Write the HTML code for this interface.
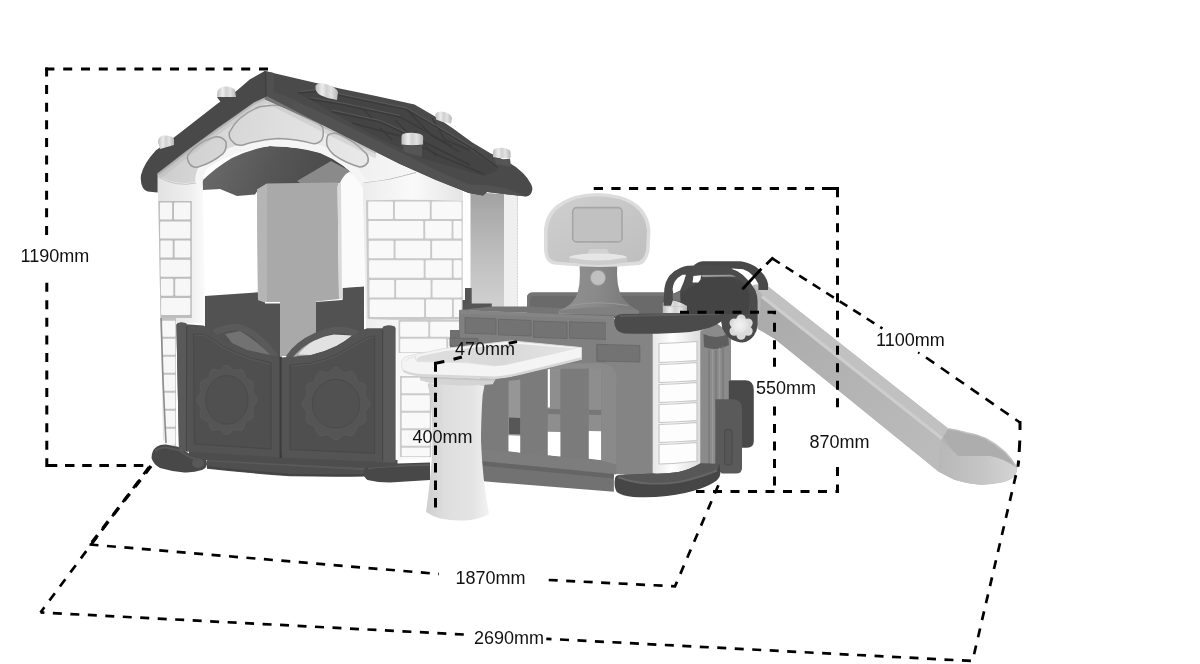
<!DOCTYPE html>
<html><head><meta charset="utf-8">
<title>Playhouse dimensions</title>
<style>
html,body{margin:0;padding:0;background:#fff;}
body{width:1200px;height:664px;overflow:hidden;font-family:"Liberation Sans",sans-serif;}
svg{display:block;will-change:transform;}
text{font-family:"Liberation Sans",sans-serif;font-size:18px;fill:#111;}
.d{fill:none;stroke:#000;stroke-width:3;stroke-dasharray:9 8.5;}
</style></head><body>
<svg width="1200" height="664" viewBox="0 0 1200 664">
<defs>
<linearGradient id="gCol" x1="0" x2="1" y1="0" y2="0"><stop offset="0" stop-color="#a4a4a4"/><stop offset="0.08" stop-color="#b4b4b4"/><stop offset="1" stop-color="#b8b8b8"/></linearGradient>
<linearGradient id="gLeg" x1="0" x2="1" y1="0" y2="0"><stop offset="0" stop-color="#cfcfcf"/><stop offset="0.3" stop-color="#dedede"/><stop offset="0.75" stop-color="#e4e4e4"/><stop offset="1" stop-color="#f2f2f2"/></linearGradient>
<linearGradient id="gWallR" x1="0" x2="1" y1="0" y2="0"><stop offset="0" stop-color="#ececec"/><stop offset="0.5" stop-color="#fafafa"/><stop offset="1" stop-color="#e4e4e4"/></linearGradient>
<linearGradient id="gCyl" x1="0" x2="1" y1="0" y2="0"><stop offset="0" stop-color="#e6e6e6"/><stop offset="0.4" stop-color="#ffffff"/><stop offset="1" stop-color="#dcdcdc"/></linearGradient>
<linearGradient id="gFoot" x1="0" x2="0" y1="0" y2="1"><stop offset="0" stop-color="#5c5c5c"/><stop offset="0.5" stop-color="#4a4a4a"/><stop offset="1" stop-color="#3f3f3f"/></linearGradient>
<linearGradient id="gBoard" x1="0" x2="1" y1="0" y2="1"><stop offset="0" stop-color="#cfcfcf"/><stop offset="1" stop-color="#bebebe"/></linearGradient>
<linearGradient id="gSlide" x1="0" x2="0.6" y1="1" y2="0"><stop offset="0" stop-color="#a9a9a9"/><stop offset="0.45" stop-color="#b6b6b6"/><stop offset="0.55" stop-color="#c6c6c6"/><stop offset="1" stop-color="#bdbdbd"/></linearGradient>
<linearGradient id="gPillL" x1="0" x2="1" y1="0" y2="0"><stop offset="0" stop-color="#e2e2e2"/><stop offset="0.7" stop-color="#efefef"/><stop offset="1" stop-color="#fbfbfb"/></linearGradient>
<linearGradient id="gSlideFace" gradientUnits="userSpaceOnUse" x1="760" y1="300" x2="940" y2="450"><stop offset="0" stop-color="#aaaaaa"/><stop offset="0.5" stop-color="#b3b3b3"/><stop offset="1" stop-color="#bbbbbb"/></linearGradient>
<linearGradient id="gSlideLip" gradientUnits="userSpaceOnUse" x1="940" y1="470" x2="1015" y2="470"><stop offset="0" stop-color="#b8b8b8"/><stop offset="0.6" stop-color="#c6c6c6"/><stop offset="1" stop-color="#d4d4d4"/></linearGradient>
<linearGradient id="gUnder" gradientUnits="userSpaceOnUse" x1="210" y1="150" x2="330" y2="200"><stop offset="0" stop-color="#6a6a6a"/><stop offset="0.5" stop-color="#565656"/><stop offset="1" stop-color="#484848"/></linearGradient>
<linearGradient id="gPillar" x1="0" x2="0" y1="0" y2="1"><stop offset="0" stop-color="#a2a2a2"/><stop offset="0.5" stop-color="#bdbdbd"/><stop offset="1" stop-color="#d2d2d2"/></linearGradient>
<linearGradient id="gGable" gradientUnits="userSpaceOnUse" x1="170" y1="120" x2="400" y2="170"><stop offset="0" stop-color="#cdcdcd"/><stop offset="0.35" stop-color="#dedede"/><stop offset="0.7" stop-color="#ececec"/><stop offset="1" stop-color="#f5f5f5"/></linearGradient>
<linearGradient id="gKnob" x1="0" x2="1" y1="0" y2="0"><stop offset="0" stop-color="#bcbcbc"/><stop offset="0.3" stop-color="#ececec"/><stop offset="0.5" stop-color="#d0d0d0"/><stop offset="0.7" stop-color="#e2e2e2"/><stop offset="1" stop-color="#b6b6b6"/></linearGradient>
<linearGradient id="gTableTop" gradientUnits="userSpaceOnUse" x1="430" y1="350" x2="570" y2="360"><stop offset="0" stop-color="#dedede"/><stop offset="0.5" stop-color="#d8d8d8"/><stop offset="1" stop-color="#e4e4e4"/></linearGradient>
<linearGradient id="gPanel" gradientUnits="userSpaceOnUse" x1="190" y1="120" x2="370" y2="160"><stop offset="0" stop-color="#d0d0d0"/><stop offset="0.5" stop-color="#dfdfdf"/><stop offset="1" stop-color="#e9e9e9"/></linearGradient>
<radialGradient id="gFlower" gradientUnits="userSpaceOnUse" cx="739.5" cy="325" r="9"><stop offset="0" stop-color="#f2f2f2"/><stop offset="0.7" stop-color="#e6e6e6"/><stop offset="1" stop-color="#dcdcdc"/></radialGradient>
<linearGradient id="gPole" gradientUnits="userSpaceOnUse" x1="575" y1="0" x2="625" y2="0"><stop offset="0" stop-color="#8e8e8e"/><stop offset="0.4" stop-color="#8a8a8a"/><stop offset="1" stop-color="#7c7c7c"/></linearGradient>
</defs>
<rect width="1200" height="664" fill="#fff"/>
<g id="house">
<!-- interior: roof underside -->
<path d="M202 181 Q215 168 232 158 Q250 149 270 146 Q300 147 320 153 Q345 163 365 186 L338 186 L258 190 L255 194.5 L237 196 L220 189 L202.7 190 Z" fill="url(#gUnder)"/>
<path d="M297 181 L331 161 L352 172 L340 184 L338 183 L300 183 Z" fill="#8a8a8a"/>
<!-- interior dark lower wall -->
<path d="M205 296 L262.500 292 L265 303.500 L280 303.500 L280 360 L205 360 Z" fill="#525252"/>
<path d="M316 302 L342.5 300 L342.5 287.5 L364 286 L364 360 L316 360 Z" fill="#525252"/>
<!-- center column -->
<path d="M257 189.5 L267 183.4 L337.5 182.6 L339 299 L316 301.5 L316 356 L280 356 L280 302 L264 302 L258 300 Z" fill="#a9a9a9"/>
<path d="M257 189.5 L267 183.4 L267 302 L264 302 L258 300 Z" fill="#b5b5b5"/>
<!-- far right pillar (gray) -->
<path d="M470.5 192 L517.5 195 L517.5 312 L470.5 312 Z" fill="url(#gPillar)"/>
<path d="M504 194 L517.5 195 L517.5 312 L504 312 Z" fill="#efefef"/>
<path d="M517.5 195 V312" stroke="#d0d0d0" stroke-width="1" stroke-dasharray="1.5 1.5"/>
<!-- right wall -->
<path d="M362.6 182.6 Q390 180 417 172 L440 180 L463 191.8 L463 455 L398 460 L396 330 L366 328 Z" fill="url(#gWallR)"/>
<path d="M340 183 Q343 175 350 171.5 L362.6 181 L364 286.500 L342.500 288 L342.500 299 L339 299 Z" fill="#fbfbfb"/>
<path d="M337.5 183 L341 183 L342 299 L339 299 Z" fill="#d9d9d9"/>
<path d="M363.4 182.6 Q390 180.5 416 172.500" fill="none" stroke="#b5b5b5" stroke-width="1"/>
<!-- right wall brick panel -->
<path d="M366 200.2 Q415 198.8 462.5 201 L462.5 319 Q415 321 367.5 319 Z" fill="#c9c9c9"/>
<g fill="#f9f9f9">
<rect x="368.2" y="201.5" width="24.8" height="17.5" rx="1.2"/>
<rect x="394.9" y="201.5" width="34.9" height="17.5" rx="1.2"/>
<rect x="431.7" y="201.5" width="29.9" height="17.5" rx="1.2"/>
<rect x="368.5" y="221.1" width="54.8" height="17.5" rx="1.2"/>
<rect x="425.2" y="221.1" width="26.4" height="17.5" rx="1.2"/>
<rect x="453.4" y="221.1" width="8.2" height="17.5" rx="1.2"/>
<rect x="368.8" y="240.7" width="24.8" height="17.5" rx="1.2"/>
<rect x="395.5" y="240.7" width="34.7" height="17.5" rx="1.2"/>
<rect x="432.1" y="240.7" width="29.5" height="17.5" rx="1.2"/>
<rect x="369.1" y="260.3" width="54.6" height="17.5" rx="1.2"/>
<rect x="425.6" y="260.3" width="26.2" height="17.5" rx="1.2"/>
<rect x="453.6" y="260.3" width="8.0" height="17.5" rx="1.2"/>
<rect x="369.4" y="279.9" width="24.8" height="17.5" rx="1.2"/>
<rect x="396.1" y="279.9" width="34.5" height="17.5" rx="1.2"/>
<rect x="432.5" y="279.9" width="29.1" height="17.5" rx="1.2"/>
<rect x="369.7" y="299.5" width="54.4" height="17.5" rx="1.2"/>
<rect x="426.0" y="299.5" width="26.0" height="17.5" rx="1.2"/>
<rect x="453.8" y="299.5" width="7.8" height="17.5" rx="1.2"/>
</g>
<!-- lower right wall bricks (beside table) -->
<path d="M398.5 320 H462.5 V353 H398.5 Z M400 376 H431 V457 H400 Z" fill="#cbcbcb"/>
<g fill="#f9f9f9">
<rect x="400.2" y="321.7" width="28.1" height="15.1" rx="1.2"/><rect x="430.2" y="321.7" width="31.4" height="15.1" rx="1.2"/>
<rect x="400.2" y="338.7" width="46.1" height="13.6" rx="1.2"/><rect x="448.2" y="338.7" width="13.4" height="11.6" rx="1.2"/>
<rect x="401.7" y="377.7" width="28.1" height="15.6" rx="1.2"/>
<rect x="401.7" y="395.2" width="28.1" height="15.6" rx="1.2"/>
<rect x="401.7" y="412.7" width="28.1" height="15.6" rx="1.2"/>
<rect x="401.7" y="430.2" width="28.1" height="15.6" rx="1.2"/>
<rect x="401.7" y="447.7" width="28.1" height="8.6" rx="1.2"/>
</g>
<!-- gable (white arch front) -->
<path d="M157.6 172 L186 149 L218 126 L236.2 113.5 L254.2 101 L266.9 95.5 L323 125.2 L376 151 L400 163 L417 171 Q390 180.5 362.6 182.6 L362.6 187 Q352 170 336 160 Q320 151 303 148.6 Q286 146 269.8 146 Q254 147.5 239.7 152 Q222 158 208 167 Q202 173 202.7 181 L200 186 L160 186 Z" fill="url(#gGable)"/>
<clipPath id="cGable"><path d="M157.6 172 L186 149 L218 126 L236.2 113.5 L254.2 101 L266.9 95.5 L323 125.2 L376 151 L400 163 L417 171 Q390 180.5 362.6 182.6 L362.6 187 Q352 170 336 160 Q320 151 303 148.6 Q286 146 269.8 146 Q254 147.5 239.7 152 Q222 158 208 167 Q202 173 202.7 181 L200 186 L160 186 Z"/></clipPath>
<path clip-path="url(#cGable)" d="M202.7 183 Q202 173 208 167 Q222 158 239.7 152 Q254 147.5 269.8 146 Q286 146 303 148.6 Q320 151 336 160 Q352 170 362.6 187" fill="none" stroke="#f5f5f5" stroke-width="15"/>
<g fill="url(#gPanel)" stroke="#9a9a9a" stroke-width="1.5">
<path d="M229.6 132 Q238 115 259.7 106.8 Q273 104 286.5 106 Q302 109 313 118.5 Q322 124 323 128.6 Q324 137 321.6 140 Q318 144 313 143.6 Q296 139 278 138.6 Q258 140 243 145 Q236 146 233 142 Q228 138 229.6 132 Z"/>
<path d="M187.8 155 Q198 142 214.6 137 Q222 136 226 142 Q227 149 223 153.6 Q212 163 198 167 Q192 168 189.5 163.7 Q186.5 159 187.8 155 Z"/>
<path d="M328 135 Q333 132 339.6 134.4 Q354 141 366.4 153.6 Q369 158 368 162 Q365 167 359.7 167 Q346 163 334.6 155.3 Q329 151 327 145.3 Q326 139 328 135 Z"/>
</g>
<!-- left pillar -->
<path d="M157.6 175 Q175 186 195 182 L202.7 180 L205 300 L205 323 L176 323 L176 447 L163 440 Z" fill="url(#gPillL)"/>
<path d="M157.6 176.5 Q176 187.5 196 183" fill="none" stroke="#c4c4c4" stroke-width="1"/>
<path d="M158.4 201 H191.8 V318 H160.5 Z" fill="#bdbdbd"/>
<g fill="#f7f7f7">
<rect x="159.9" y="202.4" width="12.2" height="17.0" rx="1.2"/><rect x="174.0" y="202.4" width="16.3" height="17.0" rx="1.2"/>
<rect x="160.1" y="221.5" width="30.2" height="17.0" rx="1.2"/>
<rect x="160.4" y="240.6" width="12.3" height="17.0" rx="1.2"/><rect x="174.6" y="240.6" width="15.7" height="17.0" rx="1.2"/>
<rect x="160.6" y="259.7" width="29.7" height="17.0" rx="1.2"/>
<rect x="160.9" y="278.8" width="12.4" height="17.0" rx="1.2"/><rect x="175.2" y="278.8" width="15.1" height="17.0" rx="1.2"/>
<rect x="161.1" y="297.9" width="29.2" height="17.0" rx="1.2"/>
</g>
<path d="M161 318 H176 V446 L165.500 442 Z" fill="#c2c2c2"/>
<g fill="#f7f7f7">
<rect x="162.2" y="320.7" width="13.1" height="16.1" rx="1.2"/>
<rect x="162.6" y="338.7" width="12.7" height="16.1" rx="1.2"/>
<rect x="163.0" y="356.7" width="12.3" height="16.1" rx="1.2"/>
<rect x="163.4" y="374.7" width="11.9" height="16.1" rx="1.2"/>
<rect x="163.8" y="392.7" width="11.5" height="16.1" rx="1.2"/>
<rect x="164.2" y="410.7" width="11.1" height="16.1" rx="1.2"/>
<rect x="164.6" y="428.7" width="10.7" height="16.1" rx="1.2"/>
</g>
<!-- roof right plane -->
<path d="M264.6 71 L339.6 88.4 L376 96 L414.5 104.5 L436 117 L452.4 128 L472.3 142.4 L490.4 153.3 L508.4 162.3 Q517 167 522.9 173 Q528 178 531 184 Q533 188 532 191 Q531 195.500 526.5 196.6 L508.4 194.5 L487 192 L483 195.5 L468.7 193 L436 180 L400 164 L376 152 L323 125.2 L264.8 99.3 Z" fill="#4a4a4a"/>
<!-- fascia band (slightly lighter) -->
<path d="M264.8 99.3 L323 125.2 L376 152 L400 164 L436 180 L468.7 193 L483 195.5 L487 192 L508.4 194.5 L526.5 196.6 L505 188 L486 185 L468.7 184.500 L436 170 L400 152 L376 140 L323 113.500 L278 93 Z" fill="#525252"/>
<path d="M264.8 71 L274 73 L274 92 L296 100 L292 108 L264.8 99.3 Z" fill="#505050"/>
<!-- roof tiles hint -->
<path d="M298 93 L319 91 L406.7 110.6 L470 150 L498 170 L484 176 L423 158.5 L373 135.6 L331.7 111.7 Z" fill="#444444"/>
<g fill="none" stroke="#3a3a3a" stroke-width="1.4">
<path d="M298 93 L319 91 L406.7 109.6 L473 149 L498 168"/>
<path d="M310 99 L345 105 L400 117 L452 146"/>
<path d="M331.7 111.7 L380 122 L420 140 L470 165"/>
<path d="M352 123 L400 136 L440 156 L484 174"/>
<path d="M406.7 109.6 L432 136 L460 152"/>
<path d="M432 118 L445 140 L470 150"/>
<path d="M360 106 L372 118 M395 120 L408 133 M380 128 L392 140 M424 144 L436 156"/>
</g>
<g fill="none" stroke="#585858" stroke-width="1">
<path d="M299 91.5 L319 89.500 L407 108 L473.500 147.500"/>
<path d="M311 97.500 L345 103.500 L400 115.500"/>
<path d="M332 110 L380 120.500 L420 138.500"/>
</g>
<!-- roof left band -->
<path d="M264.8 71 L250 79.2 L236.7 90.7 L218 103.3 L174 137.6 L156 150.3 Q144 163 141 175 Q140 183 143 188 Q146 192 150 191.8 L157.6 192.6 L157.6 173.5 L186 151.5 L218 127.9 L236.2 115.2 L254.2 102.5 L266.9 96.7 L266.9 75 Z" fill="#494949"/>
<path d="M265.3 71 L265.8 97" stroke="#3f3f3f" stroke-width="1"/>
<path d="M157.6 174.500 L186 152.500 L218 128.900 L236.2 116.200 L254.2 103.500 L266.9 97.700 L323 126.500 L376 153" fill="none" stroke="#9a9a9a" stroke-width="2.5" opacity="0.55"/>
<path d="M159 177.500 L186 156 L218 132.400 L236.2 119.700 L254.2 107 L266.9 101.200 L323 130 L376 156.500" fill="none" stroke="#b4b4b4" stroke-width="4" opacity="0.35"/>
<!-- roof knobs -->
<g>
<path d="M217 96 Q216 88 224 86.500 Q232 86 235 90 L236 97 Q230 101 222 102 Z" fill="url(#gKnob)"/>
<path d="M217 97 L236 97 L244 94 L236 100 L222 104 Z" fill="#494949"/>
<path d="M158 142 Q158 136 164 135.500 Q172 135 174 139 L174 145 L160 149 Z" fill="url(#gKnob)"/>
<path d="M315.4 86 Q318 82 326 84 Q336 87 338 92 L337 100 Q328 99 320 95 Q315 92 315.4 86 Z" fill="url(#gKnob)"/>
<path d="M401.500 136 Q402 132.500 412 132.700 Q423 133 423.200 137 L423 144.400 Q412 146 401.500 144.400 Z" fill="url(#gKnob)"/>
<path d="M403 145 Q412 147 422 145 L422 157 L404 152 Z" fill="#555"/>
<path d="M435.4 114 Q438 110.500 445 112 Q451 114 452 118 L451 123.400 Q443 123 436 119.500 Z" fill="url(#gKnob)"/>
<path d="M493 151 Q494 147.500 502 147.700 Q510 148.500 510.600 152 L510.600 157.700 Q502 159 493 157 Z" fill="url(#gKnob)"/>
<path d="M494.500 158 Q502 160 510 158.500 L511 167 L496 164 Z" fill="#555"/>
</g>
<!-- base -->
<path d="M207 456.25 L365 465 L365 476.5 Q330 477 290 476.25 Q245 473 207 468.75 Z" fill="#4f4f4f"/>
<path d="M207 460 L365 469" stroke="#5a5a5a" stroke-width="2.5" fill="none"/>
<path d="M207 467 Q245 471.500 290 474.750 Q330 475.500 365 475" stroke="#444" stroke-width="2" fill="none"/>
<path d="M151.5 458 Q151.5 450 157 446.5 Q161 444 166 444.5 L178 446.8 L190.3 454.3 L205.4 458.8 Q207.5 461 207 464.5 Q206 468.5 202 470 Q194 472.8 184.3 472.4 Q172 471.5 160 467.9 Q153.5 464.5 151.5 458 Z" fill="#484848"/>
<ellipse cx="198" cy="463" rx="6" ry="5" fill="#606060" opacity="0.7"/>
<path d="M155 451 Q160 447 166 447.500 L178 450 L190 457 L203 461" stroke="#585858" stroke-width="2" fill="none"/>
<path d="M161 318 L163 380 L166 443" stroke="#8c8c8c" stroke-width="1.6" fill="none"/>
<path d="M363.75 472.5 Q364 467.500 367.5 466.25 Q378 464 390 463.75 L430 462.5 L430 480 L390 482.5 Q378 482.500 367.5 480 Q363.500 477 363.75 472.5 Z" fill="#484848"/>
<path d="M368 468.500 Q380 466 430 465" stroke="#5a5a5a" stroke-width="2" fill="none"/>

<!-- gate window backgrounds (arches) -->
<path d="M225 334 L240 331 Q252 338 262 347 L272 355.5 L246.8 350 L232 343 Z" fill="#727272"/>
<path d="M298 354.5 Q305 346 313.4 341 Q324 336 334 334.6 L352 335.5 L344 341.5 L336.5 346 L324 351.5 L310.9 355 Z" fill="#e2e2e2"/>
<path d="M214 333 Q227 326.500 239 327.5 Q256 331 275.500 357" fill="none" stroke="#5a5a5a" stroke-width="6.5"/>
<path d="M288.500 358 Q298 344 315 336.500 Q326 331 336.5 330 Q347 329.500 358 334" fill="none" stroke="#5a5a5a" stroke-width="6.5"/>
<!-- sill under gate -->
<path d="M189 449 L397.5 460 L397.5 466 L365 468 L206 460 L189 456 Z" fill="#4d4d4d"/>
<!-- gates -->
<path d="M176.4 325 Q176.4 322.5 181.5 322.5 Q186.6 322.5 186.6 324.3 L203.3 325.6 Q212 330 221.2 338.4 Q234 345 246.8 350 Q258 353.5 267.3 355 L280 356.4 L280 457.5 L179 451 Z" fill="#535353"/>
<path d="M281.4 357.6 L310.9 355 Q324 352 336.5 346 Q349 339 359.5 332 Q363 329.5 367.2 328.2 L382.6 328.2 Q382.6 325.5 389 325.5 Q395.4 325.5 395.4 328.2 L395.4 462.7 L281.4 457.6 Z" fill="#545454"/>
<path d="M176.4 325 Q176.4 322.5 181.5 322.5 Q186.6 322.5 186.6 324.3 L188.500 451.600 L179 451 Z" fill="#595959"/>
<path d="M382.6 328.2 Q382.6 325.5 389 325.5 Q395.4 325.5 395.4 328.2 L395.4 462.7 L383 462 Z" fill="#5a5a5a"/>
<path d="M186.6 326 V451" stroke="#444" stroke-width="1"/>
<path d="M382.6 330 V461" stroke="#444" stroke-width="1"/>
<path d="M280.7 356.500 V458" stroke="#3c3c3c" stroke-width="2.4"/>
<!-- gate inner panels -->
<g fill="#4f4f4f" stroke="#484848" stroke-width="1.2">
<path d="M193.500 334 L204 334.500 Q213 339 222 346 Q236 353 250 358 L271 363 V449 L194.500 444 Z"/>
<path d="M290 365 L311 363 Q325 360 338 354 L366 338 L374.500 336 V453 L290 449.500 Z"/>
</g>
<g fill="none" stroke="#5a5a5a" stroke-width="1.1">
<path d="M194.500 335 L204 335.500 Q213 340 222 347 Q236 354 250 359 L270 364"/>
<path d="M291 366 L311 364 Q325 361 338 355 L366 339 L373.500 337"/>
</g>
<g>
<path d="M257.2 399.9 L256.8 401.7 L255.9 403.4 L254.6 404.9 L253.5 406.4 L252.9 407.9 L252.8 409.5 L253.1 411.4 L253.5 413.5 L253.6 415.5 L253.2 417.3 L252.1 418.6 L250.5 419.5 L248.7 420.2 L247.1 420.8 L245.9 421.7 L245.1 423.1 L244.6 424.9 L244.0 426.9 L243.2 428.7 L242.1 430.0 L240.5 430.5 L238.7 430.4 L237.0 430.0 L235.3 429.6 L233.9 429.7 L232.6 430.4 L231.3 431.7 L229.9 433.1 L228.5 434.2 L226.9 434.7 L225.3 434.2 L223.9 433.1 L222.5 431.7 L221.2 430.4 L219.9 429.7 L218.5 429.6 L216.8 430.0 L215.1 430.4 L213.3 430.5 L211.7 430.0 L210.6 428.7 L209.8 426.9 L209.2 424.9 L208.7 423.1 L207.9 421.7 L206.7 420.8 L205.1 420.2 L203.3 419.5 L201.7 418.6 L200.6 417.3 L200.2 415.5 L200.3 413.5 L200.7 411.4 L201.0 409.5 L200.9 407.9 L200.3 406.4 L199.2 404.9 L197.9 403.4 L197.0 401.7 L196.6 399.9 L197.0 398.1 L197.9 396.4 L199.2 394.9 L200.3 393.4 L200.9 391.9 L201.0 390.3 L200.7 388.4 L200.3 386.3 L200.2 384.3 L200.6 382.5 L201.7 381.2 L203.3 380.3 L205.1 379.6 L206.7 379.0 L207.9 378.1 L208.7 376.7 L209.2 374.9 L209.8 372.9 L210.6 371.1 L211.7 369.8 L213.3 369.3 L215.1 369.4 L216.8 369.8 L218.5 370.2 L219.9 370.1 L221.2 369.4 L222.5 368.1 L223.9 366.7 L225.3 365.6 L226.9 365.1 L228.5 365.6 L229.9 366.7 L231.3 368.1 L232.6 369.4 L233.9 370.1 L235.3 370.2 L237.0 369.8 L238.7 369.4 L240.5 369.3 L242.1 369.8 L243.2 371.1 L244.0 372.9 L244.6 374.9 L245.1 376.7 L245.9 378.1 L247.1 379.0 L248.7 379.6 L250.5 380.3 L252.1 381.2 L253.2 382.5 L253.6 384.3 L253.5 386.3 L253.1 388.4 L252.8 390.3 L252.9 391.9 L253.5 393.4 L254.6 394.9 L255.9 396.4 L256.8 398.1 L257.2 399.9 Z" fill="#555555" stroke="#5b5b5b" stroke-width="0.9"/>
<path d="M370.1 403.7 L369.7 405.6 L368.6 407.3 L367.2 409.0 L366.0 410.5 L365.2 412.0 L365.1 413.8 L365.5 415.7 L366.0 417.9 L366.1 420.0 L365.6 421.8 L364.3 423.2 L362.5 424.2 L360.6 424.8 L358.8 425.5 L357.4 426.4 L356.5 427.9 L355.9 429.8 L355.3 431.9 L354.4 433.8 L353.1 435.1 L351.3 435.7 L349.3 435.5 L347.3 435.0 L345.5 434.6 L343.8 434.8 L342.4 435.5 L340.9 436.9 L339.4 438.3 L337.8 439.5 L336.0 440.0 L334.2 439.5 L332.6 438.3 L331.1 436.9 L329.6 435.5 L328.2 434.8 L326.5 434.6 L324.7 435.0 L322.7 435.5 L320.7 435.7 L318.9 435.1 L317.6 433.8 L316.7 431.9 L316.1 429.8 L315.5 427.9 L314.6 426.4 L313.2 425.5 L311.4 424.8 L309.5 424.2 L307.7 423.2 L306.4 421.8 L305.9 420.0 L306.0 417.9 L306.5 415.7 L306.9 413.8 L306.8 412.0 L306.0 410.5 L304.8 409.0 L303.4 407.3 L302.3 405.6 L301.9 403.7 L302.3 401.8 L303.4 400.1 L304.8 398.4 L306.0 396.9 L306.8 395.4 L306.9 393.6 L306.5 391.7 L306.0 389.5 L305.9 387.4 L306.4 385.6 L307.7 384.2 L309.5 383.2 L311.4 382.6 L313.2 381.9 L314.6 381.0 L315.5 379.5 L316.1 377.6 L316.7 375.5 L317.6 373.6 L318.9 372.3 L320.7 371.7 L322.7 371.9 L324.7 372.4 L326.5 372.8 L328.2 372.6 L329.6 371.9 L331.1 370.5 L332.6 369.1 L334.2 367.9 L336.0 367.4 L337.8 367.9 L339.4 369.1 L340.9 370.5 L342.4 371.9 L343.8 372.6 L345.5 372.8 L347.3 372.4 L349.3 371.9 L351.3 371.7 L353.1 372.3 L354.4 373.6 L355.3 375.5 L355.9 377.6 L356.5 379.5 L357.4 381.0 L358.8 381.9 L360.6 382.6 L362.5 383.2 L364.3 384.2 L365.6 385.6 L366.1 387.4 L366.0 389.5 L365.5 391.7 L365.1 393.6 L365.2 395.4 L366.0 396.9 L367.2 398.4 L368.6 400.1 L369.7 401.8 L370.1 403.7 Z" fill="#555555" stroke="#5b5b5b" stroke-width="0.9"/>
<ellipse cx="226.9" cy="399.9" rx="21.1" ry="24.3" fill="#505050" stroke="#4a4a4a" stroke-width="1"/>
<ellipse cx="336" cy="403.7" rx="23.7" ry="24.3" fill="#515151" stroke="#4a4a4a" stroke-width="1"/>
</g>

</g>
<g id="kitchen">
<!-- dark L piece behind pillar base -->
<path d="M465 288 L471.7 288 L471.7 303.5 L491.8 303.5 L491.8 310 L465 310 Z" fill="#555"/>
<path d="M462.5 300 L470 300 L470 312 L462.5 312 Z" fill="#555"/>
<!-- back rail of kitchen -->
<path d="M527 298 Q527 292.5 533 292.5 L690 292.5 L690 318 L527 318 Z" fill="#6a6a6a"/>
<path d="M527 298 Q527 292.5 533 292.5 L690 292.5 L690 296 L533 296 Q530 296 530 300 L530 318 L527 318 Z" fill="#747474"/>
<!-- counter top surface -->
<path d="M459 310 L492 306.500 L527 306.500 L640 312 L614 316.500 Z" fill="#757575"/>
<!-- hoop pole + base -->
<path d="M579.6 266 L617.2 266 Q616 286 622 297 Q630 307 639 310.500 L639 314 L558.7 314 L558.7 310.500 Q570 307 576 297 Q581 286 579.6 266 Z" fill="url(#gPole)"/>
<path d="M558.7 311 Q600 303.500 639 311 Q640 314.500 632 315.500 L566 313.500 Q558 313 558.7 311 Z" fill="#808080"/>
<path d="M570 305.500 Q598 300 628 305.500" fill="none" stroke="#999" stroke-width="1.2"/>
<circle cx="598" cy="277.8" r="7.6" fill="#c0c0c0"/>
<circle cx="598" cy="277.8" r="7.6" fill="none" stroke="#9a9a9a" stroke-width="0.8"/>
<!-- backboard -->
<path d="M553.5 264.5 Q545 263 544 250 L544 229 Q546 205 575 196 Q597 190 620 196 Q648 204 650.5 230 L649.5 250 Q647 264 639 265 Q597 269 553.5 264.5 Z" fill="#dcdcdc"/>
<path d="M555.5 261.500 Q548 260 547.5 250 L547.5 231 Q549 208 576 199 Q597 193.5 619 199 Q645 207 647 231 L646 250 Q644 260.500 637 261.500 Q597 265.500 555.5 261.500 Z" fill="url(#gBoard)"/>
<rect x="572.7" y="207.6" width="49.3" height="34.3" rx="4" fill="#c1c1c1" stroke="#a6a6a6" stroke-width="1.6"/>
<path d="M586 256 L590 249 L607 249 L611 256 Z" fill="#d2d2d2"/>
<ellipse cx="598" cy="257.500" rx="29" ry="4" fill="#e6e6e6"/>
<path d="M569 257.500 L569 262 Q598 268.500 627 262 L627 257.500 Q598 263.500 569 257.500 Z" fill="#cdcdcd"/>
<!-- counter body front -->
<path d="M459 310 L614 316.500 L614 460 L480 458 L480 372 L459 372 Z" fill="#808080"/>
<path d="M459 310 L614 316.500 L614 319.500 L459 313.500 Z" fill="#858585"/>
<path d="M450 330 L460 330 L460 350 L450 350 Z" fill="#6f6f6f"/>
<!-- counter bricks -->
<g fill="#737373" stroke="#686868" stroke-width="0.9">
<path d="M465 317.6 L496 318.800 L496 334.3 L465 333.200 Z"/>
<path d="M498.5 319.3 L531 320.400 L531 336 L498.5 334.800 Z"/>
<path d="M533.6 321 L567 322.200 L567 338.5 L533.6 337.300 Z"/>
<path d="M569.6 321.8 L606.4 323 L606.4 339.4 L569.6 338.200 Z"/>
<path d="M597 344.4 L639.8 345.500 L639.8 362 L597 361 Z"/>
<path d="M450 338 L478 338.500 L478 346 L450 346 Z"/>
</g>
<!-- body mid (between fence and cylinder) -->
<path d="M606 318 L654 326 L654 478 L616.4 474 L606 460 Z" fill="#848484"/>
<path d="M597 344.4 L639.8 345.500 L639.8 362 L597 361 Z" fill="#737373" stroke="#686868" stroke-width="0.9"/>
<!-- fence: background inside frame -->
<path d="M480 373 L550 363.500 L600 363 Q616.4 364 616.4 378 L616.4 470 L480 457 Z" fill="#7b7b7b"/>
<!-- gaps (lighter background) -->
<path d="M508.5 381 L520.2 379.500 L520.2 452 L508.5 451 Z" fill="#969696"/>
<path d="M547.8 368 L560.4 367 L560.4 456 L547.8 455 Z" fill="#8e8e8e"/>
<path d="M588.8 367 L601.3 368 L601.3 459.4 L588.8 458.500 Z" fill="#8e8e8e"/>
<!-- mid rail -->
<path d="M547.8 409 L560.4 409.300 L560.4 414.300 L547.8 414 Z M588.8 409.800 L601.3 410 L601.3 415 L588.8 414.800 Z" fill="#777"/>
<!-- dark piece in gap1 -->
<path d="M509 417.600 L520.2 418 L520.2 434.3 L509 434 Z" fill="#575757"/>
<!-- white openings -->
<g fill="#ffffff">
<path d="M508.5 435.2 L520.2 435.700 L520.2 452.800 L508.5 451.300 Z"/>
<path d="M547.8 431.8 L560.4 432 L560.4 456.800 L547.8 455.300 Z"/>
<path d="M588.8 431 L601.3 431.300 L601.3 460.200 L588.8 458.800 Z"/>
<path d="M547.8 367 L549.9 366.800 L549.9 407.6 L547.8 407.6 Z"/>
</g>
<path d="M480 373 L550 363.500 L600 363 Q616.4 364 616.4 378 L616.4 384 Q611 370 599 368.500 L550 369 L480 378.500 Z" fill="#8b8b8b"/>
<!-- frame right post highlight -->
<path d="M601.3 364 Q616.4 364 616.4 378 L616.4 470 L601.3 466 Z" fill="#8a8a8a"/>
<!-- frame bottom rail -->
<path d="M480 449.500 L601.3 460.400 L616.4 464.6 L616.4 474.500 L480 462 Z" fill="#7d7d7d"/>
<!-- base bar -->
<path d="M480 461 L613.9 474 L613.9 491.800 L480 481 Z" fill="#727272"/>
<path d="M480 461 L613.9 474 L613.9 478.500 L480 465.500 Z" fill="#656565"/>
<!-- right part ribbed -->
<path d="M700 331 L717 323.4 L731 334 L731 472 L700 472 Z" fill="#8b8b8b"/>
<path d="M703.500 334 Q716 340 728 334 L729 345 Q716 352 704 347 Z" fill="#5e5e5e"/>
<path d="M709 350 V468 M716 350 V468 M723 346 V468" stroke="#777" stroke-width="1.3" fill="none"/>
<path d="M712.500 350 V468 M719.500 348 V468" stroke="#999" stroke-width="1.3" fill="none"/>
<!-- dark holder -->
<path d="M728.8 381.500 Q729 380.3 732 380.3 L745.800 380.300 Q753.8 381 753.8 390 L753.8 441 Q753.8 447.7 747 447.7 L728.8 447.7 Z" fill="#494949"/>
<path d="M715.4 399.2 L734 399.200 Q742 400 742 409 L742 468 Q742 473.6 736 473.6 L722 473.600 L715.4 468 Z" fill="#5a5a5a"/>
<rect x="724.6" y="429.3" width="7.4" height="35.7" rx="3.5" fill="#565656" stroke="#4c4c4c" stroke-width="1.2"/>
<!-- cylinder -->
<path d="M652.7 330 L700.3 329 L700.3 465 Q690 471.500 678.6 474 Q665 476 652.7 475.600 Z" fill="url(#gCyl)"/>
<g fill="#fdfdfd" stroke="#c6c6c6" stroke-width="1.2">
<path d="M659 343.500 Q678 343 697 341.500 L697 360.500 Q678 362 659 362.500 Z"/>
<path d="M659 364.500 Q678 364 697 362.500 L697 380.500 Q678 382 659 382.500 Z"/>
<path d="M659 384.500 Q678 384 697 382.500 L697 400.500 Q678 402 659 402.500 Z"/>
<path d="M659 404.500 Q678 404 697 402.500 L697 420.500 Q678 422 659 422.500 Z"/>
<path d="M659 424.500 Q678 424 697 422.500 L697 440.500 Q678 442 659 442.500 Z"/>
<path d="M659 444.500 Q678 444 697 442.500 L697 461 Q678 463.600 659 464 Z"/>
</g>
<!-- right round foot -->
<path d="M615 478.6 Q615.500 475.500 618.4 475.3 L652.7 473.6 Q665 474 678.6 472 Q690 469.500 700.3 463.6 L719.6 464 L720.4 473.6 Q720 478 717 480.3 Q710 485.500 700 488.7 Q685 494 666.9 496 Q650 498 633.4 497 Q622 496 616.7 492 Q613.500 486 615 478.6 Z" fill="#464646"/>
<path d="M618.4 475.3 L652.7 473.6 Q665 474 678.6 472 Q690 469.500 700.3 463.6 L719.6 464 L717 470 Q697 478 678.6 481 Q666 483 650 482.500 Q634 482 618.4 476.800 Z" fill="#575757"/>
<path d="M618.4 477.300 Q634 483 650 483.500 Q666 484 678.6 482 Q697 478.500 717 470.500" fill="none" stroke="#666" stroke-width="2"/>
<!-- dark counter top -->
<path d="M614.2 322 Q614 314.500 622 314 L700 313 L722 312 L722 321 Q717 325 710 327.500 Q700 331 690 332 Q660 334.500 624 333.4 Q614.500 332 614.2 322 Z" fill="#4b4b4b"/>
<path d="M620 316 L720 313.800" stroke="#5c5c5c" stroke-width="2" fill="none"/>
<!-- white knob on counter -->
<path d="M662.8 303.500 Q662.8 300.4 675 300.4 Q686.9 300.400 686.9 303.500 L686.9 313 L662.8 313 Z" fill="url(#gKnob)"/>
<path d="M663.5 306.500 H687" stroke="#c8c8c8" stroke-width="0.8"/>

</g>
<g id="slide">
<path d="M753 285 Q761 283 769.4 287.6 L948.5 428.75 Q958 430 966 432.7 Q976 434 985.8 438.5 Q996 444 1005 452 Q1012 459 1017 468 Q1017 473 1015 475.8 Q1010 481 1001.4 482.6 Q990 485 978 484.6 Q965 483 954.4 479.7 L938.75 471.8 L775 339 L757.6 328.75 Z" fill="#b4b4b4"/>
<!-- top rim highlight -->
<path d="M753 285 Q761 283 769.4 287.6 L948.5 428.75 L943 437 L763 295 Z" fill="#c1c1c1"/>
<path d="M763 295 L943 437 L941 440 L761 298 Z" fill="#cdcdcd"/>
<!-- face gradient: upper-left darker -->
<path d="M761 298 L941 440 L938.75 471.8 L775 339 L757.6 328.75 Z" fill="url(#gSlideFace)"/>
<!-- end scoop -->
<path d="M948.5 428.75 Q958 430 966 432.7 Q976 434 985.8 438.5 Q996 444 1005 452 Q1012 459 1017 468 Q1003 458 989.7 456 L958 456 Q950 448 943 437 Z" fill="#adadad"/>
<path d="M948.5 428.75 Q958 430 966 432.7 Q976 434 985.8 438.5 Q996 444 1005 452 Q1012 459 1017 468" fill="none" stroke="#c2c2c2" stroke-width="1.6"/>
<path d="M958 456 L989.7 456 Q1003 458 1017 468 Q1017 473 1015 475.8 Q1010 481 1001.4 482.6 Q990 485 978 484.6 Q965 483 954.4 479.7 L938.75 471.8 L941 440 Z" fill="url(#gSlideLip)"/>

</g>
<g id="wheel">
<!-- back handle -->
<path d="M693.7 265.5 Q697 262 702.7 261.3 L740.3 261.3 Q749 262.500 755.4 266.6 Q761 270.500 764.4 275.6 Q767.500 280 768.2 284.6 L768 290 L758.4 290 L758.4 283.9 Q756 279 752.4 275.6 Q748 271 743.3 269.6 Q738 268.500 731.3 268.8 L700 270 Z" fill="#484848"/>
<!-- front handle + body -->
<path d="M663.5 305.7 L664.3 289.1 Q665.500 281 669.6 275.6 Q674 270.500 680.1 268.1 Q684 266.200 687.6 265.8 L710.2 265 Q718 265.200 725.3 266.6 Q732 268 737.3 271.1 Q743 274.500 747.8 280.1 Q752.500 285 755.4 290.6 Q757.500 295.500 757.6 301.2 L757.6 325.3 Q757 331.500 753.9 335.8 Q751 340 746.3 341.8 Q742 343 737.3 341.8 Q732 340.500 728.3 337.3 Q724.500 333.500 722.3 328.3 Q720.800 322 720.7 313.2 L700 313 L690 306 L673 300 L671 305.7 Z" fill="#4b4b4b"/>
<!-- holes -->
<path d="M672.6 289.1 Q673 285 674.8 281.6 Q678 277 682.4 274.8 L686 274.8 Q684.800 278 683.9 281.6 L680.1 290.6 L673.3 293.7 Z" fill="#fff"/>
<path d="M693.4 275.9 L701.2 275.3 L700.4 279.4 L698.2 282.4 L692.6 282.4 Z" fill="#fff"/>
<path d="M701.2 275 L730 274.800 Q734 275.300 736 276.800 L730 276.600 L702.500 277 Z" fill="#9a9a9a"/>
<path d="M731.3 268.8 Q738 268.500 743.3 269.6 Q748 271 752.4 275.6 L754 278.500 L749 280 Q744 274.500 737.3 271.1 Z" fill="#fff"/>
<!-- inner body -->
<path d="M680.1 293.7 Q690 287 699.7 282.4 L702.7 278.6 L722.3 277.1 Q731 277.500 738.8 280.1 Q743 282.500 746.3 286.1 L750 296 L748 314 L687 314 L687 306 L680 302 Z" fill="#444"/>
<path d="M672.5 294.500 L680.1 291 L680.500 302 L673 300 Z" fill="#757575"/>
<!-- flower knob -->
<g fill="#dadada">
<circle cx="741.1" cy="327.1" r="9.4"/>
<circle cx="741.1" cy="319.1" r="4.7"/><circle cx="748.0" cy="323.1" r="4.7"/><circle cx="748.0" cy="331.1" r="4.7"/><circle cx="741.1" cy="335.1" r="4.7"/><circle cx="734.2" cy="331.1" r="4.7"/><circle cx="734.2" cy="323.1" r="4.7"/>
</g>
<circle cx="740.6" cy="326.4" r="8.8" fill="url(#gFlower)"/>

</g>
<g id="table">
<!-- leg -->
<path d="M427.6 383.5 L484.5 385.2 Q482 395 482 405 Q481 425 481 441 Q482.500 480 489 514 Q480 519 470 520 Q455 521.500 440 518.500 Q432 516 426 512 Q432 470 432.6 441 Q432.500 420 431 405 Q430 393 427.6 383.5 Z" fill="url(#gLeg)"/>
<!-- under block -->
<path d="M420 376 L495.3 379.3 L492.8 384.3 Q470 386.500 450 385 Q432 384 420 380.2 Z" fill="#d4d4d4"/>
<path d="M420 376 L495.3 379.3 L495 381 L420 378 Z" fill="#c4c4c4"/>
<!-- table rim (white) -->
<path d="M401.7 362 Q402 357.500 410 355.500 L445 348.4 L512 340.9 L581.5 347.6 L581.5 359.3 L520.4 374.3 Q508 377.500 495.3 378.5 L420 376 Q408 374.500 403.4 371.8 Q401.500 369 401.7 362 Z" fill="#f4f4f4" stroke="#dedede" stroke-width="0.9"/>
<!-- rim shading bottom -->
<path d="M403.4 369.500 Q408 372.500 420 374 L495.3 376.500 Q508 375.500 520.4 372.300 L581.5 357.300 L581.5 359.3 L520.4 374.3 Q508 377.500 495.3 378.5 L420 376 Q408 374.500 403.4 371.8 Z" fill="#d6d6d6"/>
<!-- top surface -->
<path d="M416.7 359.3 Q418 356.500 426 355 L445 351 L512 343.4 L577.3 348.4 L517 362.6 Q506 365.500 495.3 366 L467 362.500 L420 361.8 Q416 361 416.7 359.3 Z" fill="url(#gTableTop)"/>
<path d="M406 361 Q408 357.500 416 356.500 Q414 359 417 361.500 L467 362.700 L495.3 366.200" fill="none" stroke="#e2e2e2" stroke-width="1"/>

</g>
<g id="dims">
<!-- 1190 -->
<path class="d" d="M268 69 H45" style="stroke-dasharray:9 8.8"/>
<path class="d" d="M46.6 67.5 V235.7" style="stroke-dasharray:9 8.6"/>
<path class="d" d="M46.8 282.7 V467.1" style="stroke-dasharray:9 8.56"/>
<path class="d" d="M47.8 465.6 H145" style="stroke-dasharray:9.5 7.7"/>
<text x="20.5" y="262">1190mm</text>
<!-- floor outlines -->
<path class="d" style="stroke-width:3.4" d="M151 466 L90 545"/>
<path class="d" d="M149 467 L40.5 612.5" style="stroke-width:2.7"/>
<path class="d" d="M89.5 544.5 L439 574" style="stroke-width:2.7"/>
<path class="d" d="M548.7 580 L675 586.3 L721 479" style="stroke-width:2.7"/>
<text x="455.5" y="583.5">1870mm</text>
<path class="d" d="M463.8 634.5 L40.5 612.5" style="stroke-width:2.7"/>
<path class="d" d="M546.3 638.8 L972.5 661 L1018 466" style="stroke-dashoffset:3.8;stroke-width:2.7"/>
<path d="M926 357.5 L1020 422.5" class="d" style="stroke-dasharray:10 8.1;stroke-width:2.6"/>
<path d="M1020 421 V430 M1019.8 440.5 L1019.2 452 M1018.7 460.500 L1018 466" stroke="#000" stroke-width="3" fill="none"/>
<path d="M918 352.300 L919.500 353.300" stroke="#000" stroke-width="2" fill="none"/>
<text x="474" y="643.5">2690mm</text>
<!-- 1100 -->
<path class="d" d="M772.2 258.4 L882.5 328.5" style="stroke-dasharray:9 7;stroke-width:2.6"/>
<path d="M773.2 257.400 L766.4 264.2 M761.4 268.8 L742.4 289.2" stroke="#000" stroke-width="2.8" fill="none"/>
<text x="876" y="346">1100mm</text>
<!-- 870 -->
<path class="d" d="M593.75 188.5 H822" style="stroke-dasharray:9.2 8.4"/>
<path d="M822 188.5 H839" stroke="#000" stroke-width="3" fill="none"/>
<path class="d" d="M837.5 188.3 V407.3"/>
<path class="d" d="M837.5 467 V491.5 H696"/>
<text x="809.5" y="447.9">870mm</text>
<!-- 550 -->
<path class="d" d="M680 312.3 H774.5 V370"/>
<path class="d" d="M774.5 406.6 V491"/>
<text x="756" y="393.9">550mm</text>
<!-- 470 / 400 -->
<path d="M517 341.6 L508.7 343.3" stroke="#000" stroke-width="3" fill="none"/>
<path d="M461.9 357 L453.5 359.2 M444.3 361.6 L435.5 363.2 V371.8 M435.5 377.7 V386.9 M435.5 392.7 V401.9 M435.5 407.8 V417 M435.5 422.8 V427" stroke="#000" stroke-width="3" fill="none"/>
<path d="M435.5 445.5 V509.6" stroke="#000" stroke-width="3" fill="none" stroke-dasharray="9.5 8"/>
<text x="455" y="355.2">470mm</text>
<text x="412.5" y="443.2">400mm</text>

</g>
</svg>
</body></html>
